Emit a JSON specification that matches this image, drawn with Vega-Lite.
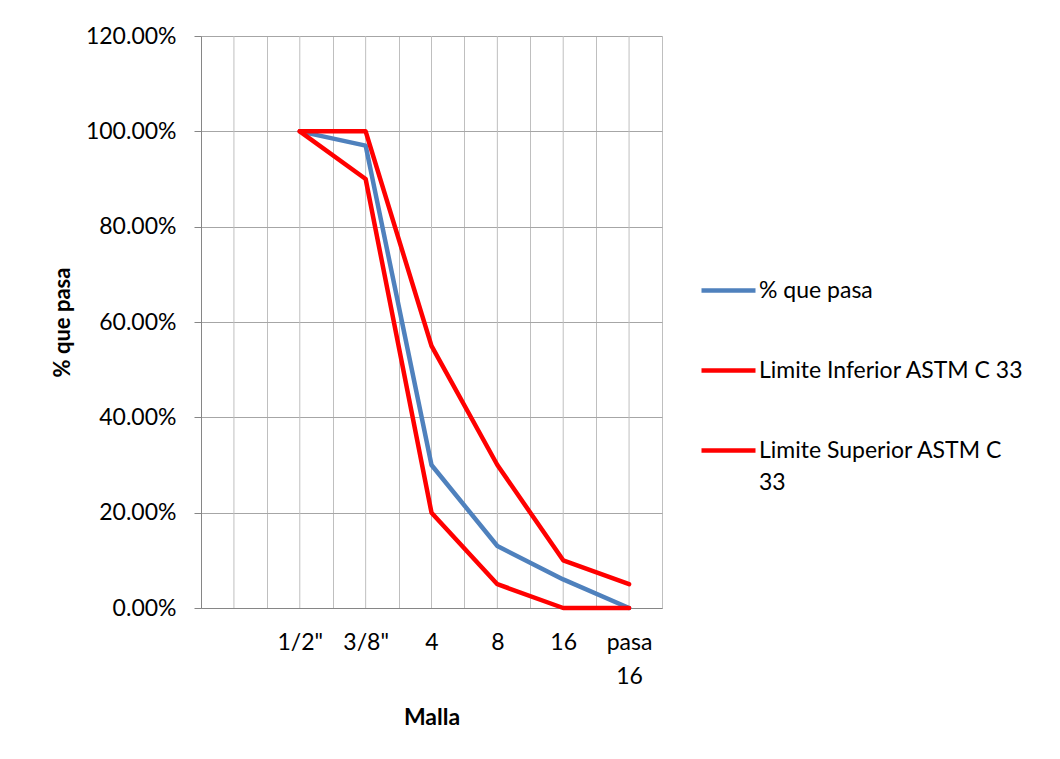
{
  "$schema": "https://vega.github.io/schema/vega-lite/v6.json",
  "autosize": "none",
  "width": 461,
  "height": 572,
  "padding": {"left": 201, "top": 36, "right": 398, "bottom": 151},
  "background": "white",
  "config": {
    "font": "Lato",
    "view": {"stroke": null}
  },
  "datasets": {
    "cats": [
      {"malla": ""}, {"malla": "1/2\""}, {"malla": "3/8\""}, {"malla": "4"}, {"malla": "8"}, {"malla": "16"}, {"malla": "pasa 16"}
    ],
    "curves": [
      {"malla": "1/2\"", "serie": "% que pasa", "pct": 1.00},
      {"malla": "3/8\"", "serie": "% que pasa", "pct": 0.97},
      {"malla": "4", "serie": "% que pasa", "pct": 0.30},
      {"malla": "8", "serie": "% que pasa", "pct": 0.13},
      {"malla": "16", "serie": "% que pasa", "pct": 0.06},
      {"malla": "pasa 16", "serie": "% que pasa", "pct": 0.00},
      {"malla": "1/2\"", "serie": "Limite Inferior ASTM C 33", "pct": 1.00},
      {"malla": "3/8\"", "serie": "Limite Inferior ASTM C 33", "pct": 0.90},
      {"malla": "4", "serie": "Limite Inferior ASTM C 33", "pct": 0.20},
      {"malla": "8", "serie": "Limite Inferior ASTM C 33", "pct": 0.05},
      {"malla": "16", "serie": "Limite Inferior ASTM C 33", "pct": 0.00},
      {"malla": "pasa 16", "serie": "Limite Inferior ASTM C 33", "pct": 0.00},
      {"malla": "1/2\"", "serie": "Limite Superior ASTM C 33", "pct": 1.00},
      {"malla": "3/8\"", "serie": "Limite Superior ASTM C 33", "pct": 1.00},
      {"malla": "4", "serie": "Limite Superior ASTM C 33", "pct": 0.55},
      {"malla": "8", "serie": "Limite Superior ASTM C 33", "pct": 0.30},
      {"malla": "16", "serie": "Limite Superior ASTM C 33", "pct": 0.10},
      {"malla": "pasa 16", "serie": "Limite Superior ASTM C 33", "pct": 0.05}
    ]
  },
  "layer": [
    {
      "data": {"name": "cats"},
      "mark": {"type": "rule", "color": "#bfbfbf", "strokeWidth": 1},
      "encoding": {
        "x": {"field": "malla", "type": "ordinal"}
      }
    },
    {
      "data": {"name": "curves"},
      "mark": {"type": "line", "strokeWidth": 4.5, "strokeJoin": "round", "strokeCap": "round"},
      "encoding": {
        "x": {
          "field": "malla",
          "type": "ordinal",
          "scale": {"type": "band", "domain": ["", "1/2\"", "3/8\"", "4", "8", "16", "pasa 16"], "paddingInner": 0, "paddingOuter": 0},
          "axis": {
            "title": "Malla",
            "titleFontSize": 23,
            "titleFontWeight": "bold",
            "titleColor": "#000000",
            "titleBaseline": "middle",
            "titleY": 109,
            "titleX": 230.5,
            "tickBand": "extent",
            "grid": true,
            "gridColor": "#bfbfbf",
            "gridWidth": 1,
            "ticks": false,
            "tickSize": 0,
            "domainColor": "#868686",
            "domainWidth": 1,
            "labelAngle": 0,
            "labelAlign": "center",
            "labelFontSize": 23,
            "labelColor": "#000000",
            "labelBaseline": "top",
            "labelPadding": 23,
            "labelLineHeight": 34,
            "labelExpr": "split(datum.label, ' ')"
          }
        },
        "y": {
          "field": "pct",
          "type": "quantitative",
          "scale": {"domain": [0, 1.2], "nice": false},
          "axis": {
            "title": "% que pasa",
            "titleFontSize": 22,
            "titleFontWeight": "bold",
            "titleColor": "#000000",
            "titleBaseline": "middle",
            "titleX": -139,
            "titleY": 286,
            "values": [0, 0.2, 0.4, 0.6, 0.8, 1.0, 1.2],
            "format": ".2%",
            "grid": true,
            "gridColor": "#a6a6a6",
            "gridWidth": 1,
            "tickColor": "#868686",
            "tickSize": 7,
            "domainColor": "#868686",
            "labelFontSize": 23,
            "labelColor": "#000000",
            "labelPadding": 18
          }
        },
        "color": {
          "field": "serie",
          "type": "nominal",
          "scale": {
            "domain": ["% que pasa", "Limite Inferior ASTM C 33", "Limite Superior ASTM C 33"],
            "range": ["#4f81bd", "#ff0000", "#ff0000"]
          },
          "legend": {
            "title": null,
            "orient": "none",
            "legendX": 498,
            "legendY": 225,
            "symbolType": "stroke",
            "symbolSize": 2916,
            "symbolStrokeWidth": 4.5,
            "labelFontSize": 23,
            "labelColor": "#000000",
            "labelOffset": 1,
            "labelLimit": 400,
            "rowPadding": 38,
            "labelExpr": "datum.label == 'Limite Superior ASTM C 33' ? ['Limite Superior ASTM C', '33'] : datum.label",
            "encode": {"labels": {"update": {"lineHeight": {"value": 32}}}}
          }
        }
      }
    }
  ]
}
